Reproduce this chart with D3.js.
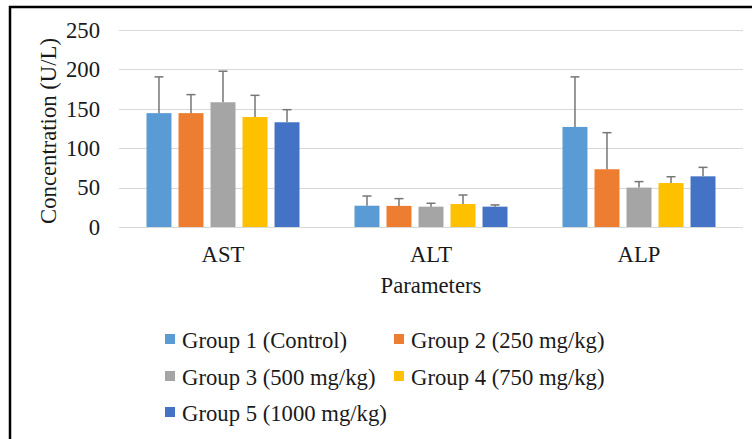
<!DOCTYPE html>
<html>
<head>
<meta charset="utf-8">
<script src="https://cdn.jsdelivr.net/npm/d3@7"></script>
</head>
<body style="margin:0;padding:0;background:#fff">
<svg id="chart" width="752" height="439" style="display:block"></svg>
<script>
const categories = ["AST", "ALT", "ALP"];
const groups = ["Group 1 (Control)", "Group 2 (250 mg/kg)", "Group 3 (500 mg/kg)", "Group 4 (750 mg/kg)", "Group 5 (1000 mg/kg)"];
const colors = ["#5B9BD5", "#ED7D31", "#A5A5A5", "#FFC000", "#4472C4"];
// means per group, ordered by categories
const means = [
  [144.5, 27.0, 127.0],
  [144.5, 26.8, 73.3],
  [158.3, 25.8, 50.0],
  [139.6, 29.2, 55.8],
  [132.9, 25.8, 64.3]
];
// standard deviations (upper error)
const errs = [
  [46.0, 12.3, 63.5],
  [23.5, 9.2, 46.4],
  [39.4, 4.3, 7.6],
  [27.5, 11.4, 8.0],
  [16.0, 2.2, 11.4]
];
const yTicks = [0, 50, 100, 150, 200, 250];

const FONT = '"Liberation Serif"';
const FS = 22.7;
const TXT = "#1a1a1a";
const svg = d3.select("#chart");
const plot = { left: 119, right: 743, top: 30, bottom: 227 };

const x0 = d3.scaleBand().domain(categories).range([plot.left, plot.right]).padding(0);
const clusterW = 153;
const x1 = d3.scaleBand().domain(groups)
  .range([(x0.bandwidth() - clusterW) / 2, (x0.bandwidth() + clusterW) / 2])
  .paddingInner(0.22).paddingOuter(0);
const y = d3.scaleLinear().domain([0, 250]).range([plot.bottom, plot.top]);

function styleText(sel) {
  return sel.style("font-family", FONT).attr("font-size", FS).attr("fill", TXT);
}

// gridlines
svg.append("g").selectAll("line").data(yTicks).join("line")
  .attr("x1", plot.left).attr("x2", plot.right)
  .attr("y1", d => Math.round(y(d)) + 0.5).attr("y2", d => Math.round(y(d)) + 0.5)
  .attr("stroke", "#D9D9D9").attr("stroke-width", 1);

// y tick labels
styleText(svg.append("g").selectAll("text").data(yTicks).join("text")
  .attr("x", 100).attr("y", d => y(d))
  .attr("dy", "0.34em")
  .attr("text-anchor", "end")
  .text(d => d));

// bars
const data = [];
groups.forEach((g, gi) => categories.forEach((c, ci) => data.push({ g, gi, c, v: means[gi][ci], e: errs[gi][ci] })));

svg.append("g").selectAll("rect").data(data).join("rect")
  .attr("x", d => x0(d.c) + x1(d.g))
  .attr("y", d => y(d.v))
  .attr("width", x1.bandwidth())
  .attr("height", d => y(0) - y(d.v))
  .attr("fill", d => colors[d.gi]);

// error bars
const eg = svg.append("g").attr("stroke", "#767676").attr("stroke-width", 1.5).attr("fill", "none");
eg.selectAll("line.v").data(data).join("line").attr("class", "v")
  .attr("x1", d => x0(d.c) + x1(d.g) + x1.bandwidth() / 2)
  .attr("x2", d => x0(d.c) + x1(d.g) + x1.bandwidth() / 2)
  .attr("y1", d => y(d.v)).attr("y2", d => y(d.v + d.e));
eg.selectAll("line.c").data(data).join("line").attr("class", "c")
  .attr("x1", d => x0(d.c) + x1(d.g) + x1.bandwidth() / 2 - 4.5)
  .attr("x2", d => x0(d.c) + x1(d.g) + x1.bandwidth() / 2 + 4.5)
  .attr("y1", d => y(d.v + d.e)).attr("y2", d => y(d.v + d.e));

// x labels
styleText(svg.append("g").selectAll("text").data(categories).join("text")
  .attr("x", d => x0(d) + x0.bandwidth() / 2)
  .attr("y", 262)
  .attr("text-anchor", "middle")
  .text(d => d));

// axis titles
styleText(svg.append("text")
  .attr("x", (plot.left + plot.right) / 2).attr("y", 293)
  .attr("text-anchor", "middle")
  .text("Parameters"));
styleText(svg.append("text")
  .attr("transform", "translate(56,131) rotate(-90)")
  .attr("text-anchor", "middle")
  .text("Concentration (U/L)"));

// legend
const legPos = [
  { x: 165, y: 348 }, { x: 394, y: 348 },
  { x: 165, y: 385 }, { x: 394, y: 385 },
  { x: 165, y: 421 }
];
const leg = svg.append("g").selectAll("g").data(groups).join("g")
  .attr("transform", (d, i) => `translate(${legPos[i].x},${legPos[i].y})`);
leg.append("rect").attr("x", 0).attr("y", -14).attr("width", 10).attr("height", 10)
  .attr("fill", (d, i) => colors[i]);
styleText(leg.append("text").attr("x", 17).attr("y", 0).text(d => d));

// outer border (top and left visible)
svg.append("path")
  .attr("d", "M10,439 L10,7 L752,7")
  .attr("fill", "none").attr("stroke", "#000").attr("stroke-width", 2.5);
</script>
</body>
</html>
